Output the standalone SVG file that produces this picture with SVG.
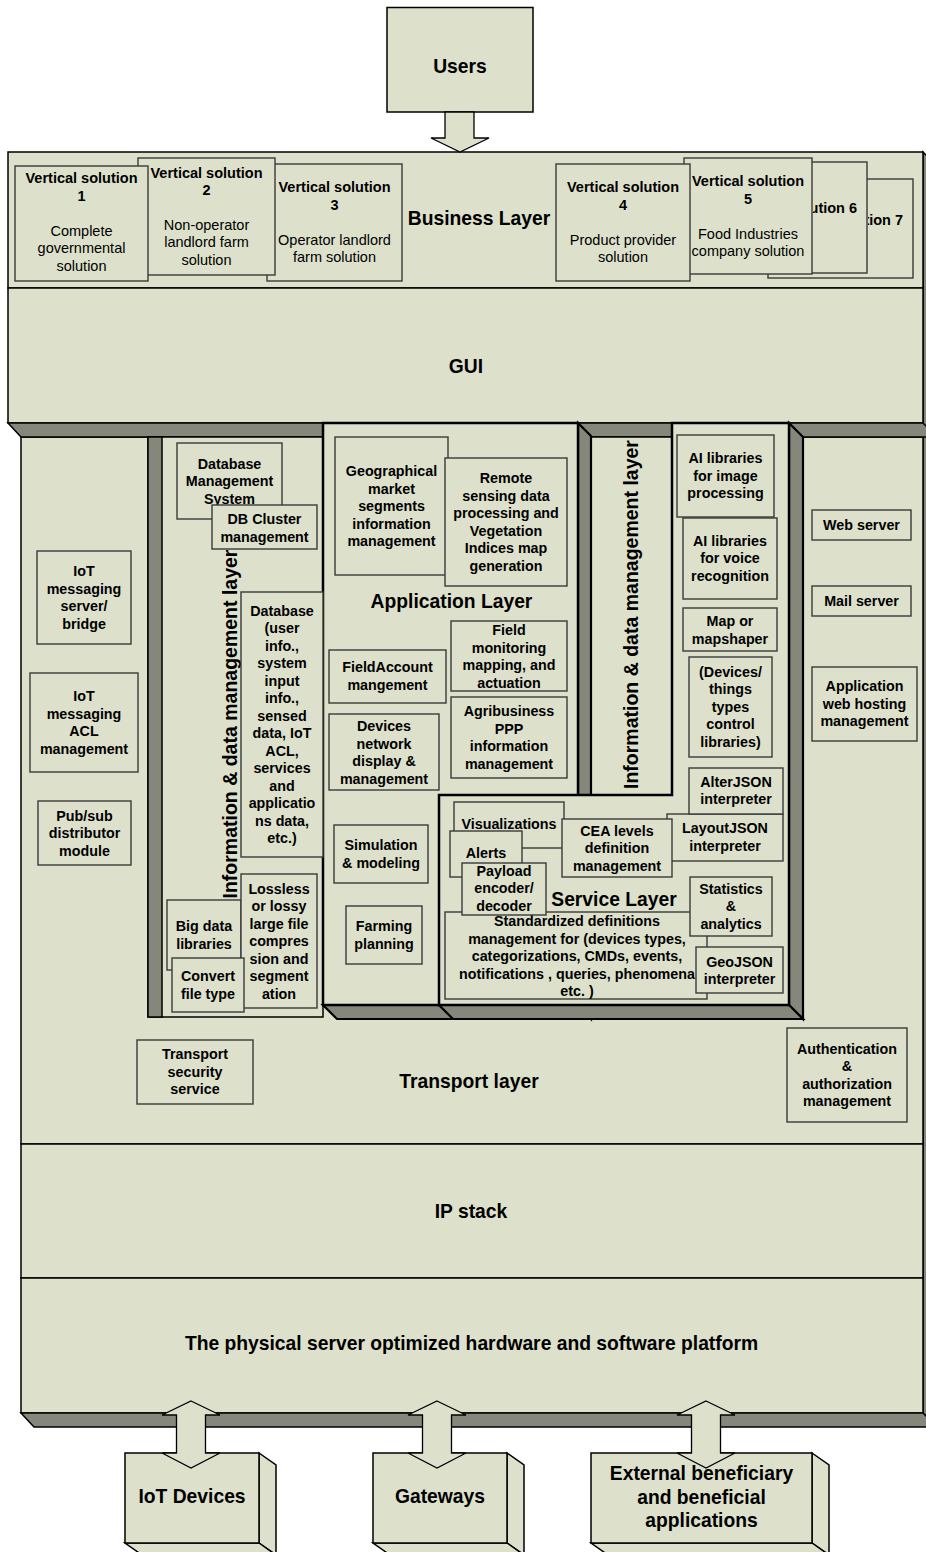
<svg xmlns="http://www.w3.org/2000/svg" width="926" height="1552" viewBox="0 0 926 1552">
<style>
.face{fill:#dde0cb;stroke:#000;stroke-width:1.5}
.side{fill:#84877a;stroke:#000;stroke-width:1.5}
.heavy{fill:#dde0cb;stroke:#000;stroke-width:2.5}
.heavyside{fill:#84877a;stroke:#000;stroke-width:2.2}
.box{fill:#dde0cb;stroke:#3a3a3a;stroke-width:1.4}
.arrow{fill:#dde0cb;stroke:#000;stroke-width:1.3;stroke-linejoin:miter}
text{font-family:"Liberation Sans",Arial,Helvetica,sans-serif;fill:#000;text-anchor:middle}
.t{font-size:14.3px;font-weight:bold}
.tb{font-size:14.5px;font-weight:bold}
.tr{font-size:14.5px}
.big{font-size:19.3px;font-weight:bold}
.vert{font-size:19.5px;font-weight:bold}
</style>
<defs>
  <!-- visible parts of the stacked solution cards -->
  <clipPath id="clip-vs6"><rect x="813" y="162" width="54" height="111"/></clipPath>
  <clipPath id="clip-vs7"><rect x="868" y="179" width="45" height="99"/></clipPath>
</defs>
<rect width="926" height="1552" fill="#fff"/>

<!-- server stack: transport, IP stack, platform -->
<g id="server-stack">
  <polygon class="side" points="923,152 937,166 937,1427 923,1413"/>
  <rect id="transport-layer" class="face" x="21" y="437" width="902" height="707"/>
  <rect id="ip-stack" class="face" x="21" y="1144" width="902" height="134"/>
  <rect id="platform" class="face" x="21" y="1278" width="902" height="135"/>
  <polygon class="side" points="21,1413 923,1413 937,1427 34,1427"/>
</g>

<!-- business layer and GUI -->
<g id="business-layer">
  <rect class="face" x="8" y="152" width="915" height="136"/>
</g>
<g id="gui-layer">
  <rect class="face" x="8" y="288" width="915" height="135"/>
  <polygon class="side" points="8,423 923,423 937,437 21,437"/>
  <text class="big" x="466" y="373">GUI</text>
</g>

<!-- users -->
<g id="users">
  <rect class="face" x="387" y="7.5" width="146" height="104.5"/>
  <text class="big" x="460" y="73">Users</text>
</g>

<!-- information & data management layer (left) -->
<g id="info-left">
  <rect class="face" x="148" y="437" width="175" height="580"/>
  <rect class="side" x="148" y="437" width="14" height="580"/>
  <text class="vert" x="237" y="724" transform="rotate(-90 237 724)">Information &amp; data management layer</text>
</g>

<!-- information & data management layer (right) -->
<g id="info-right">
  <rect class="face" x="591" y="437" width="81" height="360"/>
  <text class="vert" x="638" y="614.5" transform="rotate(-90 638 614.5)">Information &amp; data management layer</text>
</g>

<!-- application layer (3D block) -->
<g id="application-layer">
  <polygon class="heavyside" points="578,423 591,436 591,1019 578,1005"/>
  <polygon class="heavyside" points="323,1005 578,1005 591,1019 337,1019"/>
  <rect class="heavy" x="323" y="423" width="255" height="582"/>
  <text class="big" x="451.5" y="608">Application Layer</text>
</g>

<!-- service layer with libraries column (3D block) -->
<g id="service-layer">
  <polygon class="heavyside" points="789,423 803,437 803,1019 789,1005"/>
  <polygon class="heavyside" points="439,1005 789,1005 803,1019 453,1019"/>
  <polygon class="heavy" points="672,423 789,423 789,1005 439,1005 439,795 672,795"/>
</g>

<!-- vertical solutions -->
<g id="vs7">
  <rect class="box" x="768" y="179" width="145" height="99"/>
  <text class="tb" x="841" y="225" clip-path="url(#clip-vs7)">Vertical solution 7</text>
</g>
<g id="vs6">
  <rect class="box" x="723" y="162" width="144" height="111"/>
  <text class="tb" x="795" y="213" clip-path="url(#clip-vs6)">Vertical solution 6</text>
</g>
<g id="vs5">
  <rect class="box" x="684" y="158" width="128" height="116"/>
  <text x="748"><tspan class="tb" x="748" y="186">Vertical solution</tspan><tspan class="tb" x="748" y="204">5</tspan><tspan class="tr" x="748" y="239">Food Industries</tspan><tspan class="tr" x="748" y="256">company solution</tspan></text>
</g>
<g id="vs4">
  <rect class="box" x="556" y="164" width="134" height="117"/>
  <text x="623"><tspan class="tb" x="623" y="192">Vertical solution</tspan><tspan class="tb" x="623" y="210">4</tspan><tspan class="tr" x="623" y="245">Product provider</tspan><tspan class="tr" x="623" y="262">solution</tspan></text>
</g>
<g id="vs3">
  <rect class="box" x="267" y="164" width="135" height="117"/>
  <text x="334.5"><tspan class="tb" x="334.5" y="192">Vertical solution</tspan><tspan class="tb" x="334.5" y="210">3</tspan><tspan class="tr" x="334.5" y="245">Operator landlord</tspan><tspan class="tr" x="334.5" y="262">farm solution</tspan></text>
</g>
<g id="vs2">
  <rect class="box" x="138" y="158" width="137" height="117"/>
  <text x="206.5"><tspan class="tb" x="206.5" y="178">Vertical solution</tspan><tspan class="tb" x="206.5" y="195">2</tspan><tspan class="tr" x="206.5" y="230">Non-operator</tspan><tspan class="tr" x="206.5" y="247">landlord farm</tspan><tspan class="tr" x="206.5" y="265">solution</tspan></text>
</g>
<g id="vs1">
  <rect class="box" x="15" y="166" width="133" height="115"/>
  <text x="81.5"><tspan class="tb" x="81.5" y="183">Vertical solution</tspan><tspan class="tb" x="81.5" y="201">1</tspan><tspan class="tr" x="81.5" y="236">Complete</tspan><tspan class="tr" x="81.5" y="253">governmental</tspan><tspan class="tr" x="81.5" y="271">solution</tspan></text>
</g>
<text class="big" x="479" y="225">Business Layer</text>

<!-- transport layer items -->
<g id="iot-messaging-server">
  <rect class="box" x="37" y="551" width="94" height="93"/>
  <text class="t"><tspan x="84" y="576">IoT</tspan><tspan x="84" y="593.5">messaging</tspan><tspan x="84" y="611">server/</tspan><tspan x="84" y="628.5">bridge</tspan></text>
</g>
<g id="iot-messaging-acl">
  <rect class="box" x="30" y="673" width="108" height="99"/>
  <text class="t"><tspan x="84" y="701">IoT</tspan><tspan x="84" y="718.5">messaging</tspan><tspan x="84" y="736">ACL</tspan><tspan x="84" y="753.5">management</tspan></text>
</g>
<g id="pubsub">
  <rect class="box" x="38" y="801" width="93" height="64"/>
  <text class="t"><tspan x="84.5" y="820.5">Pub/sub</tspan><tspan x="84.5" y="838">distributor</tspan><tspan x="84.5" y="855.5">module</tspan></text>
</g>
<g id="transport-security">
  <rect class="box" x="137" y="1040" width="116" height="64"/>
  <text class="t"><tspan x="195" y="1059">Transport</tspan><tspan x="195" y="1076.5">security</tspan><tspan x="195" y="1094">service</tspan></text>
</g>
<g id="web-server">
  <rect class="box" x="812" y="510" width="99" height="30"/>
  <text class="t" x="861.5" y="530">Web server</text>
</g>
<g id="mail-server">
  <rect class="box" x="812" y="586" width="99" height="30"/>
  <text class="t" x="861.5" y="605.5">Mail server</text>
</g>
<g id="app-web-hosting">
  <rect class="box" x="812" y="667" width="105" height="74"/>
  <text class="t"><tspan x="864.5" y="691">Application</tspan><tspan x="864.5" y="708.5">web hosting</tspan><tspan x="864.5" y="726">management</tspan></text>
</g>
<g id="auth">
  <rect class="box" x="787" y="1028" width="120" height="94"/>
  <text class="t"><tspan x="847" y="1053.5">Authentication</tspan><tspan x="847" y="1071">&amp;</tspan><tspan x="847" y="1088.5">authorization</tspan><tspan x="847" y="1106">management</tspan></text>
</g>
<text class="big" x="469" y="1088">Transport layer</text>
<text class="big" x="471" y="1218">IP stack</text>
<text class="big" x="471.5" y="1350">The physical server optimized hardware and software platform</text>

<!-- information & data management items -->
<g id="dbms">
  <rect class="box" x="177" y="443" width="105" height="76"/>
  <text class="t"><tspan x="229.5" y="468.5">Database</tspan><tspan x="229.5" y="486">Management</tspan><tspan x="229.5" y="503.5">System</tspan></text>
</g>
<g id="db-cluster">
  <rect class="box" x="212" y="505" width="105" height="44"/>
  <text class="t"><tspan x="264.5" y="524">DB Cluster</tspan><tspan x="264.5" y="541.5">management</tspan></text>
</g>
<g id="database">
  <rect class="box" x="241" y="592" width="82" height="265"/>
  <text class="t"><tspan x="282" y="615.5">Database</tspan><tspan x="282" y="633">(user</tspan><tspan x="282" y="650.5">info.,</tspan><tspan x="282" y="668">system</tspan><tspan x="282" y="685.5">input</tspan><tspan x="282" y="703">info.,</tspan><tspan x="282" y="720.5">sensed</tspan><tspan x="282" y="738">data, IoT</tspan><tspan x="282" y="755.5">ACL,</tspan><tspan x="282" y="773">services</tspan><tspan x="282" y="790.5">and</tspan><tspan x="282" y="808">applicatio</tspan><tspan x="282" y="825.5">ns data,</tspan><tspan x="282" y="843">etc.)</tspan></text>
</g>
<g id="big-data">
  <rect class="box" x="167" y="900" width="74" height="70"/>
  <text class="t"><tspan x="204" y="931">Big data</tspan><tspan x="204" y="948.5">libraries</tspan></text>
</g>
<g id="lossless">
  <rect class="box" x="241" y="874" width="76" height="134"/>
  <text class="t"><tspan x="279" y="893.5">Lossless</tspan><tspan x="279" y="911">or lossy</tspan><tspan x="279" y="928.5">large file</tspan><tspan x="279" y="946">compres</tspan><tspan x="279" y="963.5">sion and</tspan><tspan x="279" y="981">segment</tspan><tspan x="279" y="998.5">ation</tspan></text>
</g>
<g id="convert">
  <rect class="box" x="172" y="958" width="72" height="54"/>
  <text class="t"><tspan x="208" y="981">Convert</tspan><tspan x="208" y="998.5">file type</tspan></text>
</g>

<!-- application layer items -->
<g id="geo-market">
  <rect class="box" x="335" y="437" width="113" height="138"/>
  <text class="t"><tspan x="391.5" y="476">Geographical</tspan><tspan x="391.5" y="493.5">market</tspan><tspan x="391.5" y="511">segments</tspan><tspan x="391.5" y="528.5">information</tspan><tspan x="391.5" y="546">management</tspan></text>
</g>
<g id="remote-sensing">
  <rect class="box" x="445" y="458" width="122" height="128"/>
  <text class="t"><tspan x="506" y="483">Remote</tspan><tspan x="506" y="500.5">sensing data</tspan><tspan x="506" y="518">processing and</tspan><tspan x="506" y="535.5">Vegetation</tspan><tspan x="506" y="553">Indices map</tspan><tspan x="506" y="570.5">generation</tspan></text>
</g>
<g id="field-monitoring">
  <rect class="box" x="451" y="621" width="116" height="70"/>
  <text class="t"><tspan x="509" y="635">Field</tspan><tspan x="509" y="652.5">monitoring</tspan><tspan x="509" y="670">mapping, and</tspan><tspan x="509" y="687.5">actuation</tspan></text>
</g>
<g id="field-account">
  <rect class="box" x="329" y="650" width="117" height="53"/>
  <text class="t"><tspan x="387.5" y="672">FieldAccount</tspan><tspan x="387.5" y="689.5">mangement</tspan></text>
</g>
<g id="agribusiness">
  <rect class="box" x="451" y="697" width="116" height="81"/>
  <text class="t"><tspan x="509" y="716">Agribusiness</tspan><tspan x="509" y="733.5">PPP</tspan><tspan x="509" y="751">information</tspan><tspan x="509" y="768.5">management</tspan></text>
</g>
<g id="devices-network">
  <rect class="box" x="329" y="714" width="110" height="76"/>
  <text class="t"><tspan x="384" y="731">Devices</tspan><tspan x="384" y="748.5">network</tspan><tspan x="384" y="766">display &amp;</tspan><tspan x="384" y="783.5">management</tspan></text>
</g>
<g id="simulation">
  <rect class="box" x="334" y="825" width="94" height="58"/>
  <text class="t"><tspan x="381" y="850">Simulation</tspan><tspan x="381" y="867.5">&amp; modeling</tspan></text>
</g>
<g id="farming">
  <rect class="box" x="346" y="906" width="76" height="58"/>
  <text class="t"><tspan x="384" y="931">Farming</tspan><tspan x="384" y="948.5">planning</tspan></text>
</g>

<!-- libraries column -->
<g id="ai-image">
  <rect class="box" x="677" y="435" width="97" height="82"/>
  <text class="t"><tspan x="725.5" y="463">AI libraries</tspan><tspan x="725.5" y="480.5">for image</tspan><tspan x="725.5" y="498">processing</tspan></text>
</g>
<g id="ai-voice">
  <rect class="box" x="683" y="518" width="94" height="81"/>
  <text class="t"><tspan x="730" y="545.5">AI libraries</tspan><tspan x="730" y="563">for voice</tspan><tspan x="730" y="580.5">recognition</tspan></text>
</g>
<g id="map">
  <rect class="box" x="683" y="608" width="94" height="43"/>
  <text class="t"><tspan x="730" y="626">Map or</tspan><tspan x="730" y="643.5">mapshaper</tspan></text>
</g>
<g id="device-types">
  <rect class="box" x="689" y="657" width="83" height="100"/>
  <text class="t"><tspan x="730.5" y="676.5">(Devices/</tspan><tspan x="730.5" y="694">things</tspan><tspan x="730.5" y="711.5">types</tspan><tspan x="730.5" y="729">control</tspan><tspan x="730.5" y="746.5">libraries)</tspan></text>
</g>

<!-- service layer items -->
<g id="visualizations">
  <rect class="box" x="454" y="802" width="110" height="46"/>
  <text class="t" x="509" y="829">Visualizations</text>
</g>
<g id="alerts">
  <rect class="box" x="450" y="831" width="72" height="46"/>
  <text class="t" x="486" y="858">Alerts</text>
</g>
<g id="standardized">
  <rect class="box" x="445" y="912" width="262" height="87"/>
  <text class="t"><tspan x="577" y="926">Standardized definitions</tspan><tspan x="577" y="943.5">management for (devices types,</tspan><tspan x="577" y="961">categorizations, CMDs, events,</tspan><tspan x="577" y="978.5">notifications , queries, phenomena</tspan><tspan x="577" y="996">etc. )</tspan></text>
</g>
<g id="payload">
  <rect class="box" x="462" y="863" width="84" height="52"/>
  <text class="t"><tspan x="504" y="875.5">Payload</tspan><tspan x="504" y="893">encoder/</tspan><tspan x="504" y="910.5">decoder</tspan></text>
</g>
<g id="layoutjson">
  <rect class="box" x="667" y="814" width="116" height="47"/>
  <text class="t"><tspan x="725" y="833">LayoutJSON</tspan><tspan x="725" y="850.5">interpreter</tspan></text>
</g>
<g id="cea">
  <rect class="box" x="562" y="819" width="110" height="58"/>
  <text class="t"><tspan x="617" y="835.5">CEA levels</tspan><tspan x="617" y="853">definition</tspan><tspan x="617" y="870.5">management</tspan></text>
</g>
<g id="alterjson">
  <rect class="box" x="689" y="768" width="94" height="46"/>
  <text class="t"><tspan x="736" y="786.5">AlterJSON</tspan><tspan x="736" y="803.5">interpreter</tspan></text>
</g>
<g id="statistics">
  <rect class="box" x="690" y="877" width="82" height="59"/>
  <text class="t"><tspan x="731" y="893.5">Statistics</tspan><tspan x="731" y="911">&amp;</tspan><tspan x="731" y="928.5">analytics</tspan></text>
</g>
<g id="geojson">
  <rect class="box" x="696" y="947" width="87" height="46"/>
  <text class="t"><tspan x="739.5" y="966.5">GeoJSON</tspan><tspan x="739.5" y="984">interpreter</tspan></text>
</g>
<text class="big" x="614" y="906">Service Layer</text>

<!-- external blocks -->
<g id="iot-devices">
  <polygon class="face" points="259,1453 276,1465 276,1555 259,1543"/>
  <polygon class="face" points="125,1543 259,1543 276,1555 142,1555"/>
  <rect class="face" x="125" y="1453" width="134" height="90"/>
  <text class="big" x="192" y="1503">IoT Devices</text>
</g>
<g id="gateways">
  <polygon class="face" points="507,1453 524,1465 524,1555 507,1543"/>
  <polygon class="face" points="373,1543 507,1543 524,1555 390,1555"/>
  <rect class="face" x="373" y="1453" width="134" height="90"/>
  <text class="big" x="440" y="1503">Gateways</text>
</g>
<g id="external-apps">
  <polygon class="face" points="812,1453 829,1465 829,1555 812,1543"/>
  <polygon class="face" points="591,1543 812,1543 829,1555 608,1555"/>
  <rect class="face" x="591" y="1453" width="221" height="90"/>
  <text class="big"><tspan x="701.5" y="1480">External beneficiary</tspan><tspan x="701.5" y="1503.5">and beneficial</tspan><tspan x="701.5" y="1527">applications</tspan></text>
</g>

<!-- block arrows -->
<g id="connectors">
  <polygon class="arrow" points="445,112 474,112 474,138 489,138 460,152 431,138 445,138"/>
  <polygon class="arrow" points="191,1401 220,1415 205.5,1415 205.5,1453 220,1453 191,1468 162,1453 176.5,1453 176.5,1415 162,1415"/>
  <polygon class="arrow" points="437,1401 466,1415 451.5,1415 451.5,1453 466,1453 437,1468 408,1453 422.5,1453 422.5,1415 408,1415"/>
  <polygon class="arrow" points="706,1401 735,1415 720.5,1415 720.5,1453 735,1453 706,1468 677,1453 691.5,1453 691.5,1415 677,1415"/>
</g>
</svg>
